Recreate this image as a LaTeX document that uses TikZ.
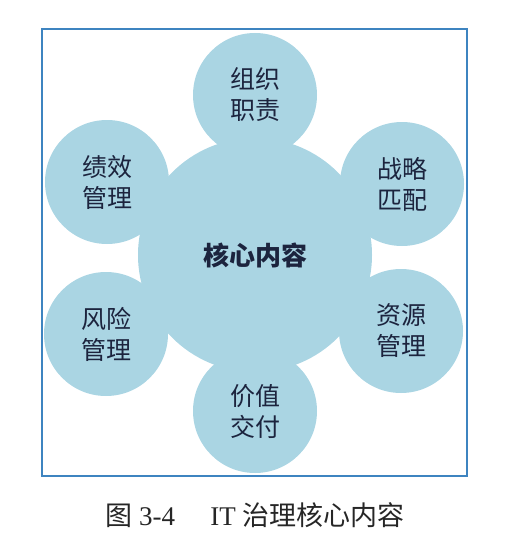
\documentclass[tikz,border=0pt]{standalone}
\usepackage{fontspec}
\setmainfont{Liberation Serif}
\newfontfamily\cjk{Noto Sans CJK SC}
\begin{document}
\begin{tikzpicture}[x=1pt,y=-1pt,
  petal/.style={circle,fill=petalblue,inner sep=0pt,minimum size=124pt,
    font=\cjk\fontsize{25}{31}\selectfont,text=inkblue,align=center},
  hub/.style={circle,fill=petalblue,inner sep=0pt,minimum size=234pt,
    font=\cjk\bfseries\fontsize{26}{30}\selectfont,text=inkblue}]
\definecolor{petalblue}{RGB}{170,213,227}
\definecolor{inkblue}{RGB}{28,36,62}
\definecolor{frameblue}{RGB}{62,132,192}
\useasboundingbox (0,0) rectangle (513,543);
% outer frame
\draw[frameblue,line width=1.6pt] (42,29) rectangle (467,476);
% central hub and the six surrounding items
\node[hub]   (core) at (255,255) {核心内容};
\node[petal] (org)  at (255,95)  {组织\\职责};
\node[petal] (strat) at (402,184) {战略\\匹配};
\node[petal] (res)  at (401,331) {资源\\管理};
\node[petal] (val)  at (255,411) {价值\\交付};
\node[petal] (risk) at (106,334) {风险\\管理};
\node[petal] (perf) at (107,182) {绩效\\管理};
% caption
\node[font=\fontsize{27}{30}\selectfont,text=black!85] (cap) at (255,515)
  {{\cjk 图}\ 3-4\hspace{1.3em}IT\ {\cjk 治理核心内容}};
\end{tikzpicture}
\end{document}
